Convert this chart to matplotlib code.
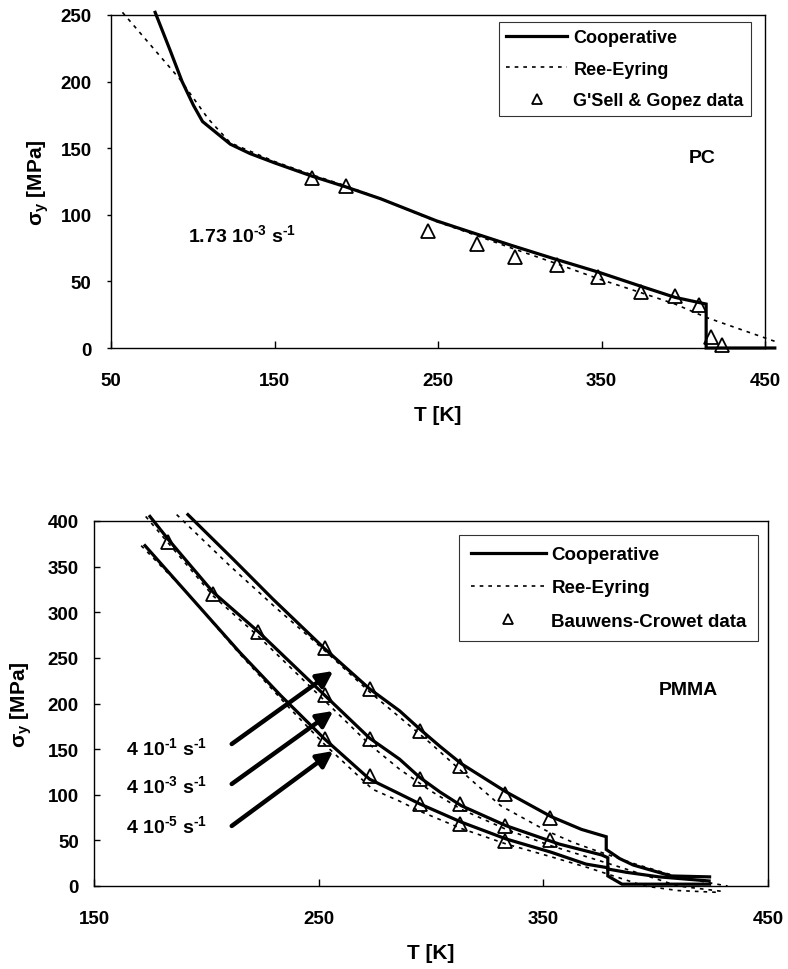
import matplotlib.pyplot as plt

plt.rcParams["font.family"] = ["Liberation Sans", "DejaVu Sans"]
plt.rcParams["font.weight"] = "bold"
plt.rcParams["mathtext.fontset"] = "custom"
plt.rcParams["mathtext.rm"] = "Liberation Sans:bold"
plt.rcParams["mathtext.it"] = "Liberation Sans:bold"
plt.rcParams["mathtext.bf"] = "Liberation Sans:bold"
plt.rcParams["mathtext.sf"] = "Liberation Sans"

# PC, 1.73e-3 1/s
pc_coop_T = [77, 86, 93.5, 100.5, 106, 115, 123, 135, 150, 173, 193.5, 215, 249, 270, 295, 321, 348, 372.5, 395, 414, 414, 456]
pc_coop_s = [252, 224, 200, 182, 170, 161, 153, 146, 139, 129, 121, 112, 95.5, 87, 77, 67, 57, 47, 38, 33, 0, 0]
pc_ree_T = [57, 92, 109.5, 123, 150, 173, 193, 215, 249, 270, 295, 321, 348, 373, 395, 414, 456]
pc_ree_s = [252, 202, 172, 154, 140, 130, 122, 112, 95, 86, 75, 64, 52, 42, 33, 23, 5]
pc_data_T = [173, 193.5, 244, 274, 297, 323, 348, 374, 395, 409.5, 417, 423.5]
pc_data_s = [128, 121.5, 88, 78, 68, 62.5, 53, 42, 39, 32, 8, 2]

# PMMA, three strain rates
pm_coop_T = [
    [191.8, 212, 229.6, 252.7, 272.7, 286, 295, 304, 313.5, 333.5, 353.5, 367, 378, 378, 384, 390, 397, 407, 424],
    [174.9, 183, 203, 223, 252.7, 272.7, 286, 295, 304, 313.5, 333.5, 357, 376, 378.7, 378.7, 387, 401.5, 423.8],
    [172.7, 190, 214.9, 233, 252.7, 272.7, 286, 295, 313.5, 333.5, 353.5, 369, 378.7, 378.7, 385, 424],
]
pm_coop_s = [
    [407, 358, 314.5, 260, 216, 192, 172, 153, 134, 103, 76, 62, 54, 40, 30, 23, 18, 11, 10],
    [405, 380, 322, 279, 209, 162, 139, 119, 103, 88, 66, 46, 34, 31, 18.6, 15, 10, 5.5],
    [373, 325, 256, 209, 161, 117, 101, 90, 70, 51.5, 37, 24, 20, 11, 2, 2],
]
pm_ree_T = [
    [186.8, 210, 230, 250, 273, 300, 318, 331, 351, 363, 372, 391, 397, 410, 425, 432],
    [173, 183, 203, 223, 252.7, 272.7, 286, 300, 313.5, 333.5, 353.5, 372, 385, 400, 410, 430],
    [171, 190, 215, 237, 252.7, 274, 286, 295, 313.5, 333.5, 353.5, 370, 385, 395, 410, 428],
]
pm_ree_s = [
    [407, 352, 307, 264, 212, 156, 116, 88, 61, 48, 40, 24, 19.6, 10, 3, 0],
    [405, 376, 318, 274, 203, 155, 128, 104, 84, 62, 44, 30, 20, 8, 0, -6],
    [373, 325, 254, 195, 155, 106, 93, 82, 63, 46, 32, 20, 8, 0, -5, -7],
]
pm_data_T = [183, 203, 223, 253, 253, 253, 273, 273, 273, 295, 295, 295, 313, 313, 313, 333, 333, 333, 353, 353]
pm_data_s = [377, 320, 278, 261, 209, 161, 216, 161, 121, 170, 117, 90, 132, 90, 68, 101, 66, 49, 74, 50]

rate_labels = ["4 10$^{\u2010 1}$ s$^{\u2010 1}$", "4 10$^{\u2010 3}$ s$^{\u2010 1}$", "4 10$^{\u2010 5}$ s$^{\u2010 1}$"]

fig = plt.figure(figsize=(7.88, 9.70), dpi=100)
ax1 = fig.add_axes([111 / 788, 1 - 349 / 970, 654 / 788, 333 / 970])
ax2 = fig.add_axes([94 / 788, 1 - 887 / 970, 674 / 788, 365 / 970])

coop_kw = dict(color="black", lw=2.3, solid_joinstyle="miter", clip_on=False)
ree_kw = dict(color="black", lw=1.2, linestyle=(0, (2.2, 3)), clip_on=False)
data_kw = dict(linestyle="none", marker="^", ms=10, mfc="none", mec="black", mew=1.3, clip_on=False)


def style_axes(ax, xlim, ylim, xticks, yticks, ydir):
    ax.set_xlim(xlim)
    ax.set_ylim(ylim)
    ax.set_xticks(xticks)
    ax.set_yticks(yticks)
    ax.tick_params(axis="x", direction="in", length=5, width=1, pad=17, labelsize=13.5)
    ax.tick_params(axis="y", direction=ydir, length=4, width=1, labelsize=13.5)
    for sp in ax.spines.values():
        sp.set_linewidth(1.0)
    ax.set_xlabel("T [K]", fontsize=15, fontweight="bold", labelpad=12)
    ax.set_ylabel(r"$\mathsf{\sigma_y}$ [MPa]", fontsize=15, fontweight="bold")


def style_legend(leg):
    leg.get_frame().set_edgecolor("black")
    leg.get_frame().set_linewidth(0.8)


# top panel: PC
ax1.plot(pc_coop_T, pc_coop_s, label="Cooperative", **coop_kw)
ax1.plot(pc_ree_T, pc_ree_s, label="Ree-Eyring", **ree_kw)
ax1.plot(pc_data_T, pc_data_s, label="G'Sell & Gopez data", **data_kw)
style_axes(ax1, (50, 450), (0, 250), [50, 150, 250, 350, 450], range(0, 251, 50), "out")
ax1.tick_params(axis="y", length=3, pad=11)
ax1.yaxis.set_label_coords(-0.092, 0.5)
ax1.text(97.2, 80.6, "1.73 10$^{\u2010 3}$ s$^{\u2010 1}$", fontsize=14, ha="left", va="baseline")
ax1.text(411.3, 140, "PC", fontsize=14, ha="center", va="baseline")
leg1 = ax1.legend(loc="upper right", bbox_to_anchor=(0.9786, 0.979), borderaxespad=0,
                  fontsize=13, handlelength=3.4, handletextpad=0.33, labelspacing=0.8,
                  borderpad=0.4, fancybox=False, numpoints=1, markerscale=0.7)
style_legend(leg1)

# bottom panel: PMMA
for i in range(3):
    ax2.plot(pm_coop_T[i], pm_coop_s[i], label="Cooperative" if i == 0 else None, **coop_kw)
    ax2.plot(pm_ree_T[i], pm_ree_s[i], label="Ree-Eyring" if i == 0 else None, **ree_kw)
ax2.plot(pm_data_T, pm_data_s, label="Bauwens-Crowet data", **data_kw)
style_axes(ax2, (150, 450), (0, 400), [150, 250, 350, 450], range(0, 401, 50), "in")
ax2.tick_params(axis="y", pad=11)
ax2.yaxis.set_label_coords(-0.089, 0.5)
ax2.text(414.4, 210.4, "PMMA", fontsize=14, ha="center", va="baseline")

tails_s = [155.6, 111.8, 65.8]
tips_s = [235.6, 191.8, 147.9]
label_base = [144.7, 103, 59]
for lab, t0, t1, yb in zip(rate_labels, tails_s, tips_s, label_base):
    ax2.annotate("", xy=(256.5, t1), xytext=(211.3, t0),
                 arrowprops=dict(arrowstyle="-|>", lw=3.2, color="black",
                                 mutation_scale=24, shrinkA=0, shrinkB=0))
    ax2.text(164.2, yb, lab, fontsize=14, ha="left", va="baseline")

leg2 = ax2.legend(loc="upper right", bbox_to_anchor=(0.985, 0.9616), borderaxespad=0,
                  fontsize=13.5, handlelength=4.0, handletextpad=0.3, labelspacing=0.85,
                  borderpad=0.6, fancybox=False, numpoints=1, markerscale=0.7)
style_legend(leg2)

fig.savefig("out.png", dpi=100)
